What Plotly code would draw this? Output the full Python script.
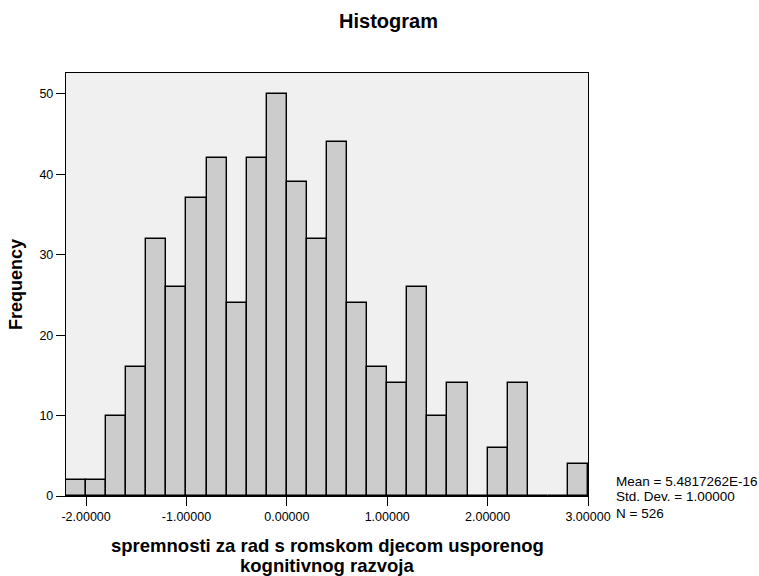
import plotly.graph_objects as go

bin_centers = [-2.1, -1.9, -1.7, -1.5, -1.3, -1.1, -0.9, -0.7, -0.5, -0.3, -0.1,
               0.1, 0.3, 0.5, 0.7, 0.9, 1.1, 1.3, 1.5, 1.7, 1.9, 2.1, 2.3, 2.5, 2.7, 2.9]
counts = [2, 2, 10, 16, 32, 26, 37, 42, 24, 42, 50, 39, 32, 44, 24, 16, 14, 26,
          10, 14, 0, 6, 14, 0, 0, 4]
bin_width = 0.2
x_ticks = [-2, -1, 0, 1, 2, 3]
x_tick_labels = ["-2.00000", "-1.00000", "0.00000", "1.00000", "2.00000", "3.00000"]
y_ticks = [0, 10, 20, 30, 40, 50]
x_title_lines = ["spremnosti za rad s romskom djecom usporenog", "kognitivnog razvoja"]
stats_lines = ["Mean = 5.4817262E-16", "Std. Dev. = 1.00000", "N = 526"]

FONT = "Liberation Sans, Arial, sans-serif"
PLOT_TOP, PLOT_BOTTOM, PLOT_RIGHT, PLOT_LEFT = 73, 496, 588, 66
PH = PLOT_BOTTOM - PLOT_TOP
PW = PLOT_RIGHT - PLOT_LEFT

fig = go.Figure()
fig.add_trace(go.Bar(
    x=bin_centers, y=counts, width=[bin_width] * len(counts),
    marker=dict(color="#CCCCCC", line=dict(color="black", width=1.4)),
    hoverinfo="x+y",
))

fig.update_layout(
    width=759, height=576,
    margin=dict(l=PLOT_LEFT, r=759 - PLOT_RIGHT, t=PLOT_TOP, b=576 - PLOT_BOTTOM),
    paper_bgcolor="white", plot_bgcolor="#F0F0F0",
    showlegend=False, bargap=0,
    font=dict(family=FONT, size=12, color="black"),
    title=dict(text="<b>Histogram</b>", x=388.5 / 759,
               xanchor="center", y=1 - 21 / 576,
               yanchor="middle", font=dict(size=20, family=FONT)),
    xaxis=dict(range=[-2.2, 3.0], tickmode="array", tickvals=x_ticks,
               ticktext=x_tick_labels, ticks="outside", ticklen=9, tickwidth=1.4,
               tickcolor="black", showgrid=False, zeroline=False,
               showline=True, linecolor="black", linewidth=1.4, mirror=True,
               tickfont=dict(size=12.5), automargin=False),
    yaxis=dict(range=[0, 52.6], tickmode="array", tickvals=y_ticks,
               ticks="outside", ticklen=9, tickwidth=1.4, tickcolor="black",
               showgrid=False, zeroline=False, showline=True, linecolor="black",
               linewidth=1.4, mirror=True, tickfont=dict(size=12.5),
               title=dict(text="<b>Frequency</b>", font=dict(size=18), standoff=12)),
)

# x-axis title (two lines, SPSS-like tight line spacing)
for line, ypx in zip(x_title_lines, [545, 565]):
    fig.add_annotation(
        xref="paper", yref="paper", x=0.5, y=(PLOT_BOTTOM - ypx) / PH,
        xanchor="center", yanchor="middle", showarrow=False,
        text="<b>" + line + "</b>", font=dict(size=18.5, family=FONT),
    )

stat_rows_px = [481, 497, 513]
for line, ypx in zip(stats_lines, stat_rows_px):
    fig.add_annotation(
        xref="paper", yref="paper",
        x=1 + (614 - PLOT_RIGHT) / PW,
        y=(PLOT_BOTTOM - ypx) / PH,
        xanchor="left", yanchor="middle", align="left", showarrow=False,
        text=line, font=dict(size=13.5, family=FONT),
    )

fig.write_html("out.html")
